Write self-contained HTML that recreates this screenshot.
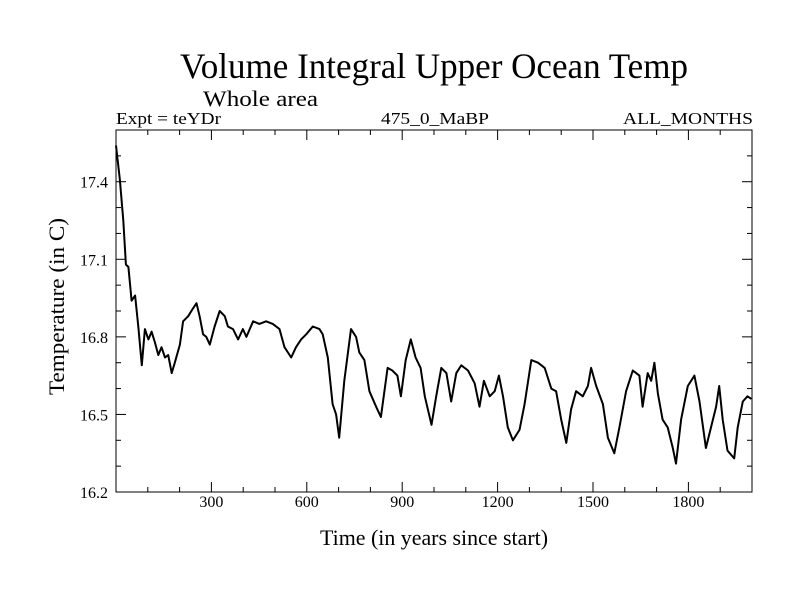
<!DOCTYPE html>
<html><head><meta charset="utf-8"><style>
html,body{margin:0;padding:0;background:#fff;}
svg{display:block;font-family:"Liberation Serif",serif;}
</style></head><body>
<svg id="chart" width="800" height="600" viewBox="0 0 800 600" xmlns="http://www.w3.org/2000/svg">
<rect x="0" y="0" width="800" height="600" fill="#fff"/>
<text x="180" y="78" font-size="36" textLength="508" lengthAdjust="spacingAndGlyphs">Volume Integral Upper Ocean Temp</text>
<text x="203" y="106" font-size="22" textLength="115" lengthAdjust="spacingAndGlyphs">Whole area</text>
<text x="116" y="124" font-size="17" textLength="105" lengthAdjust="spacingAndGlyphs">Expt = teYDr</text>
<text x="381" y="124" font-size="17" textLength="108" lengthAdjust="spacingAndGlyphs">475_0_MaBP</text>
<text x="623" y="124" font-size="17" textLength="130" lengthAdjust="spacingAndGlyphs">ALL_MONTHS</text>
<g id="axes"></g>
<text x="320" y="545" font-size="22" textLength="228" lengthAdjust="spacingAndGlyphs">Time (in years since start)</text>
<text transform="translate(64,395) rotate(-90)" font-size="22" textLength="177" lengthAdjust="spacingAndGlyphs">Temperature (in C)</text>
</svg>
<script>
const years = [0,12,23,31,39,49,60,70,81,91,102,112,122,133,143,154,164,175,185,201,211,227,242,253,263,274,284,295,310,326,342,352,368,384,399,410,431,451,472,493,514,530,551,566,582,598,619,640,650,666,681,692,702,718,739,755,765,781,797,818,833,854,869,885,896,911,927,942,958,971,992,1007,1023,1039,1054,1070,1086,1107,1128,1143,1157,1175,1191,1204,1217,1232,1248,1269,1285,1306,1327,1348,1369,1384,1400,1416,1431,1447,1468,1484,1494,1510,1531,1547,1567,1583,1604,1625,1646,1656,1672,1683,1693,1704,1719,1735,1751,1761,1777,1798,1819,1835,1855,1871,1887,1897,1908,1923,1944,1955,1971,1986,1998];
const temps = [17.54,17.41,17.25,17.08,17.07,16.94,16.96,16.84,16.69,16.83,16.79,16.82,16.78,16.73,16.76,16.72,16.73,16.66,16.70,16.77,16.86,16.88,16.91,16.93,16.88,16.81,16.80,16.77,16.84,16.90,16.88,16.84,16.83,16.79,16.83,16.80,16.86,16.85,16.86,16.85,16.83,16.76,16.72,16.76,16.79,16.81,16.84,16.83,16.81,16.72,16.54,16.50,16.41,16.63,16.83,16.80,16.74,16.71,16.59,16.53,16.49,16.68,16.67,16.65,16.57,16.71,16.79,16.72,16.68,16.57,16.46,16.57,16.68,16.66,16.55,16.66,16.69,16.67,16.62,16.53,16.63,16.57,16.59,16.65,16.57,16.45,16.40,16.44,16.54,16.71,16.70,16.68,16.60,16.59,16.48,16.39,16.52,16.59,16.57,16.61,16.68,16.61,16.54,16.41,16.35,16.45,16.59,16.67,16.65,16.53,16.66,16.63,16.70,16.58,16.48,16.45,16.37,16.31,16.48,16.61,16.65,16.55,16.37,16.45,16.53,16.61,16.48,16.36,16.33,16.45,16.55,16.57,16.56];
const xTickLabels = [300,600,900,1200,1500,1800];
const yTickLabels = ["16.2","16.5","16.8","17.1","17.4"];
const xMin=0,xMax=2000,yMin=16.2,yMax=17.6;
const L=116,R=752,T=130,B=492;
const sx=v=>L+(v-xMin)/(xMax-xMin)*(R-L);
const sy=v=>B-(v-yMin)/(yMax-yMin)*(B-T);
const NS="http://www.w3.org/2000/svg";
const g=document.getElementById('axes');
function mk(tag,attrs){const e=document.createElementNS(NS,tag);for(const k in attrs)e.setAttribute(k,attrs[k]);g.appendChild(e);return e;}
const frame=mk('rect',{x:L,y:T,width:R-L,height:B-T,fill:'none',stroke:'#000','stroke-width':1});


for(let v=100;v<xMax;v+=100){
  const major=v%300===0;const len=major?10:5;const x=sx(v);
  const t1=mk('line',{x1:x,y1:B,x2:x,y2:B-len,stroke:'#000'});
  
  
  const t2=mk('line',{x1:x,y1:T,x2:x,y2:T+len,stroke:'#000'});
  
  
}
xTickLabels.forEach(v=>{
  const t=mk('text',{x:sx(v),y:507,'font-size':16,'text-anchor':'middle'});
  t.textContent=v;
  
  
});
for(let i=1;i<14;i++){
  const v=yMin+i*0.1;const major=i%3===0;const len=major?10:5;const y=sy(v);
  const t1=mk('line',{x1:L,y1:y,x2:L+len,y2:y,stroke:'#000'});
  
  
  const t2=mk('line',{x1:R,y1:y,x2:R-len,y2:y,stroke:'#000'});
  
  
}
yTickLabels.forEach(s=>{
  const t=mk('text',{x:108,y:sy(parseFloat(s))+6,'font-size':16,'text-anchor':'end'});
  t.textContent=s;
  
  
});
const d=years.map((yr,i)=>(i?'L':'M')+sx(yr).toFixed(1)+','+sy(temps[i]).toFixed(1)).join('');
const line=mk('path',{d:d,fill:'none',stroke:'#000','stroke-width':2,'stroke-linejoin':'round'});


</script>
</body></html>
